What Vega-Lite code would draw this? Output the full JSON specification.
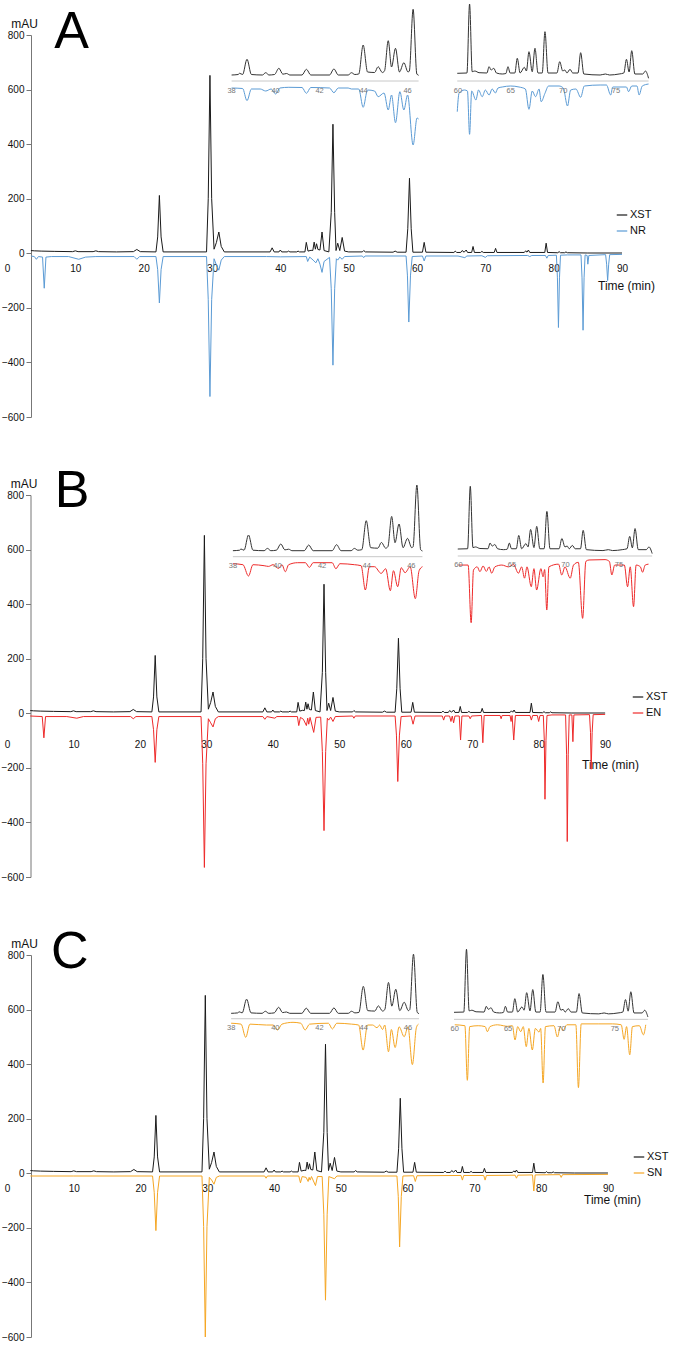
{
"$schema":"https://vega.github.io/schema/vega-lite/v6.json",
"padding":{"left":0,"top":2,"right":0,"bottom":0},
"bounds":"flush",
"spacing":78,
"resolve":{"scale":{"color":"independent"},"legend":{"color":"independent"}},
"config":{"view":{"stroke":null},"font":"Liberation Sans","legend":{"title":null,"symbolType":"stroke","symbolSize":110,"symbolStrokeWidth":1.2,"labelFontSize":11,"labelColor":"#111","rowPadding":5,"labelOffset":2}},
"datasets":{
"xst_main":[{"t":3.5,"v":10},{"t":4,"v":9},{"t":5,"v":8},{"t":7,"v":7},{"t":9.6,"v":6},{"t":10,"v":9},{"t":10.4,"v":6},{"t":12.6,"v":6},{"t":13,"v":9},{"t":13.4,"v":6},{"t":16,"v":5},{"t":18.5,"v":6},{"t":19,"v":14},{"t":19.5,"v":6},{"t":21.8,"v":5},{"t":22.05,"v":60},{"t":22.3,"v":212},{"t":22.55,"v":60},{"t":22.85,"v":5},{"t":29.2,"v":5},{"t":29.45,"v":200},{"t":29.7,"v":652},{"t":29.95,"v":200},{"t":30.3,"v":15},{"t":30.65,"v":40},{"t":31,"v":78},{"t":31.35,"v":25},{"t":31.8,"v":5},{"t":38.5,"v":5},{"t":38.8,"v":20},{"t":39.1,"v":5},{"t":39.8,"v":5},{"t":40,"v":12},{"t":40.2,"v":5},{"t":41,"v":5},{"t":41.2,"v":8},{"t":41.4,"v":5},{"t":42.4,"v":5},{"t":42.6,"v":8},{"t":42.8,"v":5},{"t":43.6,"v":5},{"t":43.8,"v":40},{"t":44.05,"v":8},{"t":44.5,"v":11},{"t":44.75,"v":10},{"t":44.95,"v":41},{"t":45.13,"v":15},{"t":45.3,"v":35},{"t":45.5,"v":14},{"t":45.8,"v":12},{"t":46.1,"v":78},{"t":46.4,"v":10},{"t":47.1,"v":5},{"t":47.45,"v":150},{"t":47.7,"v":473},{"t":47.95,"v":150},{"t":48.15,"v":10},{"t":48.4,"v":37},{"t":48.7,"v":10},{"t":49.05,"v":58},{"t":49.4,"v":8},{"t":50,"v":5},{"t":52,"v":5},{"t":52.2,"v":10},{"t":52.45,"v":5},{"t":56.5,"v":4},{"t":56.8,"v":8},{"t":57.1,"v":4},{"t":58.4,"v":4},{"t":58.65,"v":90},{"t":58.9,"v":275},{"t":59.15,"v":90},{"t":59.4,"v":4},{"t":60.8,"v":4},{"t":61.05,"v":40},{"t":61.3,"v":4},{"t":65.4,"v":3},{"t":65.6,"v":8},{"t":65.8,"v":3},{"t":66.4,"v":3},{"t":66.6,"v":10},{"t":66.9,"v":4},{"t":67.2,"v":12},{"t":67.4,"v":3},{"t":68,"v":3},{"t":68.2,"v":25},{"t":68.4,"v":3},{"t":69.3,"v":3},{"t":69.5,"v":7},{"t":69.7,"v":3},{"t":71.3,"v":3},{"t":71.5,"v":18},{"t":71.7,"v":3},{"t":75.7,"v":3},{"t":75.9,"v":9},{"t":76.1,"v":4},{"t":76.3,"v":12},{"t":76.5,"v":3},{"t":78.7,"v":3},{"t":78.9,"v":37},{"t":79.1,"v":3},{"t":80.6,"v":2},{"t":80.8,"v":6},{"t":81,"v":2},{"t":81.6,"v":2},{"t":81.8,"v":5},{"t":82,"v":2},{"t":85,"v":1},{"t":90,"v":1}],
"nr_main":[{"t":3.5,"v":-10},{"t":4,"v":-12},{"t":4.3,"v":-22},{"t":4.6,"v":-12},{"t":5.2,"v":-14},{"t":5.45,"v":-128},{"t":5.7,"v":-14},{"t":6.5,"v":-12},{"t":9,"v":-12},{"t":10.5,"v":-22},{"t":11.5,"v":-14},{"t":13,"v":-12},{"t":18.6,"v":-12},{"t":19,"v":-22},{"t":19.4,"v":-12},{"t":21.8,"v":-12},{"t":22.05,"v":-60},{"t":22.3,"v":-182},{"t":22.55,"v":-60},{"t":22.85,"v":-12},{"t":29.2,"v":-12},{"t":29.45,"v":-170},{"t":29.7,"v":-525},{"t":29.95,"v":-170},{"t":30.3,"v":-20},{"t":30.6,"v":-40},{"t":31,"v":-62},{"t":31.35,"v":-25},{"t":31.8,"v":-12},{"t":38,"v":-12},{"t":40,"v":-13},{"t":43.8,"v":-12},{"t":44,"v":-30},{"t":44.3,"v":-14},{"t":44.8,"v":-25},{"t":45.2,"v":-35},{"t":45.5,"v":-20},{"t":45.8,"v":-40},{"t":46.1,"v":-70},{"t":46.4,"v":-30},{"t":47.2,"v":-15},{"t":47.45,"v":-130},{"t":47.7,"v":-410},{"t":47.95,"v":-130},{"t":48.2,"v":-20},{"t":48.4,"v":-25},{"t":48.7,"v":-14},{"t":49.05,"v":-22},{"t":49.4,"v":-12},{"t":52,"v":-10},{"t":52.2,"v":-16},{"t":52.4,"v":-10},{"t":58.4,"v":-10},{"t":58.6,"v":-80},{"t":58.8,"v":-252},{"t":59.05,"v":-80},{"t":59.3,"v":-12},{"t":60.8,"v":-10},{"t":61.05,"v":-28},{"t":61.3,"v":-10},{"t":66,"v":-10},{"t":67,"v":-16},{"t":67.3,"v":-10},{"t":69.5,"v":-9},{"t":70,"v":-15},{"t":70.3,"v":-9},{"t":76.2,"v":-8},{"t":76.5,"v":-12},{"t":76.8,"v":-8},{"t":78.8,"v":-8},{"t":79,"v":-18},{"t":79.2,"v":-8},{"t":80.4,"v":-7},{"t":80.55,"v":-90},{"t":80.7,"v":-272},{"t":80.85,"v":-90},{"t":81,"v":-7},{"t":82,"v":-6},{"t":84,"v":-6},{"t":84.15,"v":-90},{"t":84.3,"v":-282},{"t":84.45,"v":-90},{"t":84.6,"v":-6},{"t":84.9,"v":-8},{"t":85,"v":-40},{"t":85.15,"v":-8},{"t":87.6,"v":-5},{"t":87.75,"v":-40},{"t":87.9,"v":-100},{"t":88.05,"v":-40},{"t":88.2,"v":-5},{"t":90,"v":-4}],
"en_main":[{"t":3.5,"v":-10},{"t":5.3,"v":-12},{"t":5.55,"v":-90},{"t":5.8,"v":-12},{"t":9,"v":-12},{"t":10.5,"v":-18},{"t":11.5,"v":-12},{"t":18.6,"v":-12},{"t":19,"v":-20},{"t":19.4,"v":-12},{"t":21.8,"v":-12},{"t":22.05,"v":-60},{"t":22.3,"v":-180},{"t":22.55,"v":-60},{"t":22.85,"v":-12},{"t":29.2,"v":-12},{"t":29.45,"v":-185},{"t":29.7,"v":-565},{"t":29.95,"v":-185},{"t":30.3,"v":-20},{"t":30.65,"v":-35},{"t":31,"v":-50},{"t":31.35,"v":-20},{"t":31.8,"v":-12},{"t":38.5,"v":-12},{"t":38.8,"v":-22},{"t":39.1,"v":-12},{"t":40.3,"v":-18},{"t":40.6,"v":-12},{"t":43.7,"v":-12},{"t":43.9,"v":-45},{"t":44.15,"v":-15},{"t":44.6,"v":-22},{"t":45.05,"v":-45},{"t":45.25,"v":-18},{"t":45.4,"v":-40},{"t":45.6,"v":-15},{"t":46.15,"v":-70},{"t":46.5,"v":-15},{"t":47.2,"v":-14},{"t":47.45,"v":-140},{"t":47.7,"v":-430},{"t":47.95,"v":-140},{"t":48.2,"v":-18},{"t":48.4,"v":-25},{"t":48.7,"v":-14},{"t":49.05,"v":-30},{"t":49.4,"v":-12},{"t":52,"v":-10},{"t":52.2,"v":-18},{"t":52.4,"v":-10},{"t":58.4,"v":-10},{"t":58.6,"v":-80},{"t":58.8,"v":-250},{"t":59.05,"v":-80},{"t":59.3,"v":-12},{"t":60.8,"v":-10},{"t":61.1,"v":-40},{"t":61.4,"v":-10},{"t":65.5,"v":-10},{"t":65.7,"v":-25},{"t":65.9,"v":-10},{"t":66.6,"v":-10},{"t":66.8,"v":-30},{"t":67,"v":-10},{"t":67.2,"v":-35},{"t":67.4,"v":-10},{"t":68.05,"v":-10},{"t":68.25,"v":-98},{"t":68.45,"v":-10},{"t":69.5,"v":-10},{"t":69.7,"v":-20},{"t":69.9,"v":-10},{"t":71.4,"v":-8},{"t":71.6,"v":-108},{"t":71.8,"v":-8},{"t":74.2,"v":-8},{"t":74.35,"v":-20},{"t":74.5,"v":-8},{"t":75.7,"v":-8},{"t":75.85,"v":-30},{"t":76,"v":-8},{"t":76.25,"v":-98},{"t":76.5,"v":-8},{"t":78.7,"v":-8},{"t":78.9,"v":-25},{"t":79.1,"v":-8},{"t":79.8,"v":-8},{"t":80,"v":-30},{"t":80.2,"v":-8},{"t":80.7,"v":-8},{"t":80.85,"v":-100},{"t":80.95,"v":-315},{"t":81.1,"v":-100},{"t":81.25,"v":-8},{"t":82,"v":-6},{"t":84.05,"v":-6},{"t":84.2,"v":-150},{"t":84.3,"v":-470},{"t":84.45,"v":-150},{"t":84.6,"v":-6},{"t":85,"v":-6},{"t":85.15,"v":-104},{"t":85.3,"v":-6},{"t":87.65,"v":-5},{"t":87.8,"v":-70},{"t":87.9,"v":-205},{"t":88.05,"v":-70},{"t":88.2,"v":-5},{"t":90,"v":-4}],
"sn_main":[{"t":3.5,"v":-10},{"t":10,"v":-10},{"t":21.8,"v":-10},{"t":22.05,"v":-70},{"t":22.3,"v":-210},{"t":22.55,"v":-70},{"t":22.85,"v":-10},{"t":29.2,"v":-10},{"t":29.45,"v":-195},{"t":29.7,"v":-600},{"t":29.95,"v":-195},{"t":30.3,"v":-15},{"t":30.65,"v":-25},{"t":31,"v":-40},{"t":31.35,"v":-15},{"t":31.8,"v":-10},{"t":38.6,"v":-10},{"t":38.8,"v":-18},{"t":39.0,"v":-10},{"t":43.7,"v":-10},{"t":43.95,"v":-35},{"t":44.2,"v":-12},{"t":44.8,"v":-15},{"t":45.1,"v":-30},{"t":45.25,"v":-15},{"t":45.4,"v":-25},{"t":45.6,"v":-12},{"t":46.2,"v":-45},{"t":46.5,"v":-12},{"t":47.2,"v":-12},{"t":47.45,"v":-150},{"t":47.7,"v":-465},{"t":47.95,"v":-150},{"t":48.2,"v":-12},{"t":49.05,"v":-20},{"t":49.4,"v":-10},{"t":58.4,"v":-10},{"t":58.6,"v":-85},{"t":58.8,"v":-270},{"t":59.05,"v":-85},{"t":59.3,"v":-10},{"t":60.9,"v":-9},{"t":61.15,"v":-30},{"t":61.4,"v":-9},{"t":68.0,"v":-8},{"t":68.2,"v":-25},{"t":68.4,"v":-8},{"t":71.4,"v":-8},{"t":71.6,"v":-25},{"t":71.8,"v":-8},{"t":76.1,"v":-7},{"t":76.3,"v":-18},{"t":76.5,"v":-7},{"t":78.7,"v":-6},{"t":78.9,"v":-65},{"t":79.1,"v":-6},{"t":82.8,"v":-5},{"t":83,"v":-15},{"t":83.2,"v":-5},{"t":90,"v":-4}],
"xst_in1":[{"t":38,"v":6},{"t":38.3,"v":6.5},{"t":38.36,"v":7.7},{"t":38.5,"v":6.5},{"t":38.7,"v":21.7},{"t":38.9,"v":6.5},{"t":39.4,"v":6},{"t":39.55,"v":8.3},{"t":39.7,"v":6},{"t":39.95,"v":6.5},{"t":40.15,"v":12.7},{"t":40.33,"v":6.8},{"t":40.5,"v":7.5},{"t":40.65,"v":6},{"t":41.2,"v":6},{"t":41.4,"v":11.7},{"t":41.6,"v":6},{"t":42.45,"v":6},{"t":42.65,"v":12},{"t":42.85,"v":6},{"t":43.3,"v":6},{"t":43.45,"v":8.3},{"t":43.6,"v":6.5},{"t":43.78,"v":7},{"t":43.98,"v":36},{"t":44.18,"v":9},{"t":44.5,"v":8.5},{"t":44.66,"v":14.3},{"t":44.85,"v":8.5},{"t":44.95,"v":10},{"t":45.12,"v":40.3},{"t":45.27,"v":14},{"t":45.45,"v":32.7},{"t":45.63,"v":9},{"t":45.83,"v":18.3},{"t":46.02,"v":9},{"t":46.08,"v":10},{"t":46.25,"v":71.7},{"t":46.42,"v":7},{"t":46.5,"v":5.7}],
"xst_in2":[{"t":59.93,"v":7.7},{"t":60.85,"v":8},{"t":61.1,"v":77},{"t":61.35,"v":9.3},{"t":61.6,"v":10},{"t":62,"v":8.3},{"t":62.75,"v":8},{"t":62.95,"v":14.3},{"t":63.15,"v":11},{"t":63.4,"v":12.7},{"t":63.65,"v":8},{"t":64.2,"v":7},{"t":64.55,"v":7.5},{"t":64.75,"v":14.3},{"t":64.95,"v":8},{"t":65.4,"v":8},{"t":65.63,"v":22.7},{"t":65.9,"v":8},{"t":66.3,"v":13.7},{"t":66.5,"v":10},{"t":66.74,"v":29.3},{"t":67.05,"v":9.3},{"t":67.31,"v":32.7},{"t":67.6,"v":8},{"t":68,"v":8},{"t":68.26,"v":49.3},{"t":68.55,"v":8},{"t":69.4,"v":8},{"t":69.66,"v":19.3},{"t":69.95,"v":10},{"t":70.15,"v":11},{"t":70.35,"v":8},{"t":70.64,"v":11.7},{"t":70.9,"v":8},{"t":71.4,"v":8},{"t":71.65,"v":28.3},{"t":71.95,"v":7},{"t":73.5,"v":6},{"t":74,"v":7},{"t":74.4,"v":6},{"t":75.3,"v":7},{"t":75.75,"v":8},{"t":76,"v":21.7},{"t":76.25,"v":9},{"t":76.5,"v":30.3},{"t":76.8,"v":7},{"t":77.55,"v":7},{"t":77.8,"v":10},{"t":78.1,"v":2.7}],
"nr_in1":[{"t":38,"v":-7},{"t":38.5,"v":-7.5},{"t":38.7,"v":-19.7},{"t":38.9,"v":-8},{"t":39.3,"v":-8},{"t":39.55,"v":-10},{"t":39.8,"v":-8},{"t":40,"v":-13},{"t":40.2,"v":-7},{"t":40.6,"v":-6.3},{"t":41.2,"v":-6.5},{"t":41.4,"v":-12.3},{"t":41.6,"v":-6.5},{"t":42.45,"v":-7},{"t":42.65,"v":-11.7},{"t":42.85,"v":-7},{"t":43.3,"v":-7},{"t":43.45,"v":-8},{"t":43.78,"v":-8},{"t":43.98,"v":-26.3},{"t":44.18,"v":-9},{"t":44.5,"v":-10},{"t":44.66,"v":-15.7},{"t":44.93,"v":-12},{"t":45.12,"v":-29},{"t":45.27,"v":-14},{"t":45.45,"v":-41.7},{"t":45.65,"v":-10.7},{"t":45.83,"v":-29},{"t":46,"v":-14},{"t":46.25,"v":-64},{"t":46.43,"v":-37},{"t":46.5,"v":-38}],
"nr_in2":[{"t":59.93,"v":-30.7},{"t":60.1,"v":-12.3},{"t":60.6,"v":-9},{"t":60.9,"v":-10},{"t":61.1,"v":-53.3},{"t":61.3,"v":-10},{"t":61.7,"v":-19},{"t":61.95,"v":-9},{"t":62.3,"v":-15.7},{"t":62.6,"v":-9},{"t":62.95,"v":-14},{"t":63.25,"v":-8},{"t":63.55,"v":-12},{"t":63.8,"v":-7},{"t":64.2,"v":-6},{"t":65,"v":-5},{"t":65.8,"v":-6},{"t":66.4,"v":-8},{"t":66.74,"v":-28.3},{"t":67.05,"v":-10},{"t":67.37,"v":-15.7},{"t":67.7,"v":-8},{"t":67.9,"v":-20.7},{"t":68.26,"v":-12.3},{"t":68.6,"v":-5},{"t":69.6,"v":-5},{"t":70,"v":-7},{"t":70.4,"v":-25},{"t":70.7,"v":-9},{"t":71.2,"v":-8},{"t":71.65,"v":-16.3},{"t":72,"v":-5},{"t":73.5,"v":-4},{"t":74.1,"v":-4},{"t":74.5,"v":-14},{"t":74.7,"v":-6},{"t":76,"v":-6},{"t":76.2,"v":-10.7},{"t":76.5,"v":-5},{"t":77,"v":-5},{"t":77.2,"v":-14},{"t":77.5,"v":-5},{"t":78.1,"v":-3}],
"en_in1":[{"t":38,"v":-7},{"t":38.45,"v":-8},{"t":38.7,"v":-19.3},{"t":38.9,"v":-8},{"t":39.4,"v":-9},{"t":39.6,"v":-9.7},{"t":39.8,"v":-8},{"t":40.05,"v":-11.7},{"t":40.2,"v":-8},{"t":40.35,"v":-15},{"t":40.5,"v":-8},{"t":40.9,"v":-6},{"t":41.25,"v":-6},{"t":41.43,"v":-10.7},{"t":41.6,"v":-6},{"t":42.45,"v":-6},{"t":42.62,"v":-12},{"t":42.8,"v":-7},{"t":43.45,"v":-8},{"t":43.75,"v":-9},{"t":43.94,"v":-33.3},{"t":44.12,"v":-10},{"t":44.35,"v":-10},{"t":44.65,"v":-16.7},{"t":44.85,"v":-12},{"t":45.06,"v":-34},{"t":45.2,"v":-14},{"t":45.39,"v":-30},{"t":45.55,"v":-11},{"t":45.72,"v":-16},{"t":45.95,"v":-10},{"t":46.18,"v":-42},{"t":46.35,"v":-14},{"t":46.5,"v":-10}],
"en_in2":[{"t":60,"v":-10},{"t":60.9,"v":-10},{"t":61.18,"v":-73.7},{"t":61.4,"v":-15.5},{"t":61.75,"v":-12},{"t":62,"v":-17.3},{"t":62.3,"v":-11},{"t":62.6,"v":-17},{"t":62.85,"v":-12},{"t":63.1,"v":-19},{"t":63.4,"v":-12},{"t":64.05,"v":-10},{"t":64.67,"v":-12},{"t":65.14,"v":-9.5},{"t":65.6,"v":-19},{"t":65.9,"v":-12},{"t":66.17,"v":-24.5},{"t":66.4,"v":-12},{"t":66.8,"v":-33.9},{"t":67.05,"v":-14},{"t":67.3,"v":-37.6},{"t":67.7,"v":-14},{"t":67.9,"v":-23},{"t":68.05,"v":-15},{"t":68.25,"v":-59.7},{"t":68.45,"v":-12},{"t":69.35,"v":-9},{"t":69.65,"v":-21},{"t":69.95,"v":-12},{"t":70.44,"v":-24.5},{"t":70.75,"v":-10},{"t":71.2,"v":-7},{"t":71.6,"v":-68.9},{"t":71.9,"v":-6},{"t":72.2,"v":-4.4},{"t":73.7,"v":-4},{"t":74.1,"v":-6},{"t":74.33,"v":-21},{"t":74.6,"v":-10},{"t":75.5,"v":-10},{"t":75.8,"v":-34},{"t":76.05,"v":-12},{"t":76.36,"v":-56},{"t":76.6,"v":-10},{"t":77,"v":-12},{"t":77.2,"v":-18},{"t":77.45,"v":-10},{"t":77.76,"v":-9}],
"sn_in1":[{"t":38,"v":-5},{"t":38.45,"v":-6},{"t":38.66,"v":-20.7},{"t":38.85,"v":-6},{"t":39.6,"v":-7},{"t":39.9,"v":-7},{"t":40.1,"v":-12.5},{"t":40.3,"v":-6},{"t":40.8,"v":-4},{"t":41.15,"v":-5},{"t":41.35,"v":-12.5},{"t":41.55,"v":-6},{"t":42.4,"v":-5},{"t":42.58,"v":-11.4},{"t":42.78,"v":-5},{"t":43.45,"v":-6},{"t":43.77,"v":-7},{"t":43.97,"v":-34.8},{"t":44.17,"v":-7},{"t":44.4,"v":-7},{"t":44.6,"v":-10},{"t":44.72,"v":-7},{"t":44.85,"v":-12},{"t":44.95,"v":-7},{"t":45.12,"v":-36.7},{"t":45.25,"v":-12},{"t":45.42,"v":-32},{"t":45.6,"v":-9},{"t":45.83,"v":-20},{"t":46,"v":-9},{"t":46.2,"v":-51},{"t":46.38,"v":-10},{"t":46.47,"v":-6}],
"sn_in2":[{"t":60,"v":-6},{"t":60.95,"v":-7},{"t":61.18,"v":-67},{"t":61.4,"v":-8},{"t":62.2,"v":-7},{"t":62.85,"v":-8},{"t":63.06,"v":-13.6},{"t":63.3,"v":-8},{"t":64,"v":-6},{"t":64.55,"v":-7},{"t":64.93,"v":-7.7},{"t":65.4,"v":-7},{"t":65.65,"v":-22.7},{"t":65.9,"v":-8},{"t":66.18,"v":-13.6},{"t":66.42,"v":-8},{"t":66.7,"v":-30},{"t":66.95,"v":-10},{"t":67.27,"v":-33.7},{"t":67.55,"v":-10},{"t":67.9,"v":-14},{"t":68.05,"v":-10},{"t":68.28,"v":-70},{"t":68.5,"v":-8},{"t":69.3,"v":-7},{"t":69.62,"v":-19.4},{"t":69.9,"v":-8},{"t":70.15,"v":-12.5},{"t":70.5,"v":-6},{"t":71.35,"v":-6},{"t":71.59,"v":-75},{"t":71.85,"v":-5},{"t":73.5,"v":-5},{"t":74.8,"v":-5},{"t":75.6,"v":-6},{"t":75.87,"v":-22},{"t":76.1,"v":-8},{"t":76.4,"v":-39},{"t":76.65,"v":-8},{"t":77.3,"v":-7},{"t":77.68,"v":-17},{"t":77.9,"v":-6}],
"ticks_in1":[{"t":38},{"t":40},{"t":42},{"t":44},{"t":46}],
"ticks_in2":[{"t":60},{"t":65},{"t":70},{"t":75}]
},
"vconcat":[
{"width":656,"height":382,"resolve":{"scale":{"x":"independent","y":"independent"},"axis":{"x":"independent","y":"independent"}},
"layer":[
{"layer":[
{"data":{"name":"xst_main"},"mark":{"type":"line","strokeWidth":1},"encoding":{"x":{"field":"t","type":"quantitative","scale":{"domain":[0,96],"nice":false},"axis":{"values":[0,10,20,30,40,50,60,70,80,90],"domain":false,"ticks":false,"tickSize":0,"grid":false,"offset":-163.7,"labelPadding":15,"labelBaseline":"middle","labelFlush":false,"labelOverlap":false,"labelFontSize":10,"labelColor":"#111","title":"Time (min)","titleX":619,"titleY":32,"titleAlign":"center","titleBaseline":"middle","titleFontSize":12,"titleFontWeight":"normal","titleColor":"#111"}},"y":{"field":"v","type":"quantitative","scale":{"domain":[-600,800],"nice":false},"axis":{"values":[-600,-400,-200,0,200,400,600,800],"grid":false,"offset":-24,"domainColor":"#777","tickColor":"#777","tickSize":5,"labelPadding":2,"labelFontSize":10,"labelColor":"#111","title":"mAU","titleAngle":0,"titleAlign":"center","titleBaseline":"middle","titleX":-7,"titleY":-12,"titleFontSize":12,"titleFontWeight":"normal","titleColor":"#111"}},"color":{"datum":"XST","type":"nominal","scale":{"domain":["XST","NR"],"range":["#1a1a1a","#5b9bd5"]},"legend":{"orient":"none","legendX":609,"legendY":174}}}},
{"data":{"name":"nr_main"},"mark":{"type":"line","strokeWidth":1},"encoding":{"x":{"field":"t","type":"quantitative"},"y":{"field":"v","type":"quantitative"},"color":{"datum":"NR","type":"nominal"}}},
{"data":{"values":[{"p":"A"}]},"mark":{"type":"text","fontSize":52,"align":"left","baseline":"alphabetic","color":"#000"},"encoding":{"x":{"datum":6.9},"y":{"datum":752},"text":{"field":"p"}}}
]},
{"layer":[
{"data":{"name":"xst_in1"},"mark":{"type":"rule","color":"#c8c8c8","strokeWidth":1},"encoding":{"x":{"aggregate":"min","field":"t","type":"quantitative","scale":{"domain":[27.79,57.61],"nice":false},"axis":null},"x2":{"aggregate":"max","field":"t"},"y":{"datum":0,"type":"quantitative","scale":{"domain":[-336,46],"nice":false,"zero":false},"axis":null}}},
{"data":{"name":"xst_in1"},"mark":{"type":"line","color":"#333333","strokeWidth":1,"interpolate":"monotone"},"encoding":{"x":{"field":"t","type":"quantitative"},"y":{"field":"v","type":"quantitative"}}},
{"data":{"name":"nr_in1"},"mark":{"type":"line","color":"#5b9bd5","strokeWidth":1,"interpolate":"monotone"},"encoding":{"x":{"field":"t","type":"quantitative"},"y":{"field":"v","type":"quantitative"}}},
{"data":{"name":"ticks_in1"},"mark":{"type":"text","fontSize":7.5,"color":"#777","dy":9.5},"encoding":{"x":{"field":"t","type":"quantitative"},"y":{"datum":0,"type":"quantitative"},"text":{"field":"t","type":"quantitative"}}}
]},
{"layer":[
{"data":{"name":"xst_in2"},"mark":{"type":"rule","color":"#c8c8c8","strokeWidth":1},"encoding":{"x":{"aggregate":"min","field":"t","type":"quantitative","scale":{"domain":[17.17,79.47],"nice":false},"axis":null},"x2":{"aggregate":"max","field":"t"},"y":{"datum":0,"type":"quantitative","scale":{"domain":[-336,46],"nice":false,"zero":false},"axis":null}}},
{"data":{"name":"xst_in2"},"mark":{"type":"line","color":"#333333","strokeWidth":1,"interpolate":"monotone"},"encoding":{"x":{"field":"t","type":"quantitative"},"y":{"field":"v","type":"quantitative"}}},
{"data":{"name":"nr_in2"},"mark":{"type":"line","color":"#5b9bd5","strokeWidth":1,"interpolate":"monotone"},"encoding":{"x":{"field":"t","type":"quantitative"},"y":{"field":"v","type":"quantitative"}}},
{"data":{"name":"ticks_in2"},"mark":{"type":"text","fontSize":7.5,"color":"#777","dy":9.5},"encoding":{"x":{"field":"t","type":"quantitative"},"y":{"datum":0,"type":"quantitative"},"text":{"field":"t","type":"quantitative"}}}
]}
]},
{"width":638,"height":382,"resolve":{"scale":{"x":"independent","y":"independent"},"axis":{"x":"independent","y":"independent"}},
"layer":[
{"layer":[
{"data":{"name":"xst_main"},"mark":{"type":"line","strokeWidth":1},"encoding":{"x":{"field":"t","type":"quantitative","scale":{"domain":[0,96],"nice":false},"axis":{"values":[0,10,20,30,40,50,60,70,80,90],"domain":false,"ticks":false,"tickSize":0,"grid":false,"offset":-163.7,"labelPadding":31,"labelBaseline":"middle","labelFlush":false,"labelOverlap":false,"labelFontSize":10,"labelColor":"#111","title":"Time (min)","titleX":603,"titleY":51,"titleAlign":"center","titleBaseline":"middle","titleFontSize":12,"titleFontWeight":"normal","titleColor":"#111"}},"y":{"field":"v","type":"quantitative","scale":{"domain":[-600,800],"nice":false},"axis":{"values":[-600,-400,-200,0,200,400,600,800],"grid":false,"offset":-23.5,"domainColor":"#777","tickColor":"#777","tickSize":5,"labelPadding":2,"labelFontSize":10,"labelColor":"#111","title":"mAU","titleAngle":0,"titleAlign":"center","titleBaseline":"middle","titleX":-7,"titleY":-12,"titleFontSize":12,"titleFontWeight":"normal","titleColor":"#111"}},"color":{"datum":"XST","type":"nominal","scale":{"domain":["XST","EN"],"range":["#1a1a1a","#ee2a2a"]},"legend":{"orient":"none","legendX":625,"legendY":196}}}},
{"data":{"name":"en_main"},"mark":{"type":"line","strokeWidth":1},"encoding":{"x":{"field":"t","type":"quantitative"},"y":{"field":"v","type":"quantitative"},"color":{"datum":"EN","type":"nominal"}}},
{"data":{"values":[{"p":"B"}]},"mark":{"type":"text","fontSize":52,"align":"left","baseline":"alphabetic","color":"#000"},"encoding":{"x":{"datum":7.2},"y":{"datum":756},"text":{"field":"p"}}}
]},
{"layer":[
{"data":{"name":"xst_in1"},"mark":{"type":"rule","color":"#c8c8c8","strokeWidth":1},"encoding":{"x":{"aggregate":"min","field":"t","type":"quantitative","scale":{"domain":[27.87,56.48],"nice":false},"axis":null},"x2":{"aggregate":"max","field":"t"},"y":{"datum":0,"type":"quantitative","scale":{"domain":[-320.3,61.7],"nice":false,"zero":false},"axis":null}}},
{"data":{"name":"xst_in1"},"mark":{"type":"line","color":"#333333","strokeWidth":1,"interpolate":"monotone"},"encoding":{"x":{"field":"t","type":"quantitative"},"y":{"field":"v","type":"quantitative"}}},
{"data":{"name":"en_in1"},"mark":{"type":"line","color":"#ee2a2a","strokeWidth":1,"interpolate":"monotone"},"encoding":{"x":{"field":"t","type":"quantitative"},"y":{"field":"v","type":"quantitative"}}},
{"data":{"name":"ticks_in1"},"mark":{"type":"text","fontSize":7.5,"color":"#777","dy":9.5},"encoding":{"x":{"field":"t","type":"quantitative"},"y":{"datum":0,"type":"quantitative"},"text":{"field":"t","type":"quantitative"}}}
]},
{"layer":[
{"data":{"name":"xst_in2"},"mark":{"type":"rule","color":"#c8c8c8","strokeWidth":1},"encoding":{"x":{"aggregate":"min","field":"t","type":"quantitative","scale":{"domain":[17.8,77.43],"nice":false},"axis":null},"x2":{"aggregate":"max","field":"t"},"y":{"datum":0,"type":"quantitative","scale":{"domain":[-354.7,67.4],"nice":false,"zero":false},"axis":null}}},
{"data":{"name":"xst_in2"},"mark":{"type":"line","color":"#333333","strokeWidth":1,"interpolate":"monotone"},"encoding":{"x":{"field":"t","type":"quantitative"},"y":{"field":"v","type":"quantitative"}}},
{"data":{"name":"en_in2"},"mark":{"type":"line","color":"#ee2a2a","strokeWidth":1,"interpolate":"monotone"},"encoding":{"x":{"field":"t","type":"quantitative"},"y":{"field":"v","type":"quantitative"}}},
{"data":{"name":"ticks_in2"},"mark":{"type":"text","fontSize":7.5,"color":"#777","dy":9.5},"encoding":{"x":{"field":"t","type":"quantitative"},"y":{"datum":0,"type":"quantitative"},"text":{"field":"t","type":"quantitative"}}}
]}
]},
{"width":641,"height":382,"resolve":{"scale":{"x":"independent","y":"independent"},"axis":{"x":"independent","y":"independent"}},
"layer":[
{"layer":[
{"data":{"name":"xst_main"},"mark":{"type":"line","strokeWidth":1},"encoding":{"x":{"field":"t","type":"quantitative","scale":{"domain":[0,96],"nice":false},"axis":{"values":[0,10,20,30,40,50,60,70,80,90],"domain":false,"ticks":false,"tickSize":0,"grid":false,"offset":-163.7,"labelPadding":15,"labelBaseline":"middle","labelFlush":false,"labelOverlap":false,"labelFontSize":10,"labelColor":"#111","title":"Time (min)","titleX":605,"titleY":26,"titleAlign":"center","titleBaseline":"middle","titleFontSize":12,"titleFontWeight":"normal","titleColor":"#111"}},"y":{"field":"v","type":"quantitative","scale":{"domain":[-600,800],"nice":false},"axis":{"values":[-600,-400,-200,0,200,400,600,800],"grid":false,"offset":-24,"domainColor":"#777","tickColor":"#777","tickSize":5,"labelPadding":2,"labelFontSize":10,"labelColor":"#111","title":"mAU","titleAngle":0,"titleAlign":"center","titleBaseline":"middle","titleX":-7,"titleY":-12,"titleFontSize":12,"titleFontWeight":"normal","titleColor":"#111"}},"color":{"datum":"XST","type":"nominal","scale":{"domain":["XST","SN"],"range":["#1a1a1a","#f5a623"]},"legend":{"orient":"none","legendX":626,"legendY":196}}}},
{"data":{"name":"sn_main"},"mark":{"type":"line","strokeWidth":1},"encoding":{"x":{"field":"t","type":"quantitative"},"y":{"field":"v","type":"quantitative"},"color":{"datum":"SN","type":"nominal"}}},
{"data":{"values":[{"p":"C"}]},"mark":{"type":"text","fontSize":52,"align":"left","baseline":"alphabetic","color":"#000"},"encoding":{"x":{"datum":6.6},"y":{"datum":752},"text":{"field":"p"}}}
]},
{"layer":[
{"data":{"name":"xst_in1"},"mark":{"type":"rule","color":"#c8c8c8","strokeWidth":1},"encoding":{"x":{"aggregate":"min","field":"t","type":"quantitative","scale":{"domain":[27.86,56.86],"nice":false},"axis":null},"x2":{"aggregate":"max","field":"t"},"y":{"datum":0,"type":"quantitative","scale":{"domain":[-353.6,70.8],"nice":false,"zero":false},"axis":null}}},
{"data":{"name":"xst_in1"},"mark":{"type":"line","color":"#333333","strokeWidth":1,"interpolate":"monotone"},"encoding":{"x":{"field":"t","type":"quantitative"},"y":{"field":"v","type":"quantitative"}}},
{"data":{"name":"sn_in1"},"mark":{"type":"line","color":"#f5a623","strokeWidth":1,"interpolate":"monotone"},"encoding":{"x":{"field":"t","type":"quantitative"},"y":{"field":"v","type":"quantitative"}}},
{"data":{"name":"ticks_in1"},"mark":{"type":"text","fontSize":7.5,"color":"#777","dy":9.5},"encoding":{"x":{"field":"t","type":"quantitative"},"y":{"datum":0,"type":"quantitative"},"text":{"field":"t","type":"quantitative"}}}
]},
{"layer":[
{"data":{"name":"xst_in2"},"mark":{"type":"rule","color":"#c8c8c8","strokeWidth":1},"encoding":{"x":{"aggregate":"min","field":"t","type":"quantitative","scale":{"domain":[18.04,78.11],"nice":false},"axis":null},"x2":{"aggregate":"max","field":"t"},"y":{"datum":0,"type":"quantitative","scale":{"domain":[-349.1,70.7],"nice":false,"zero":false},"axis":null}}},
{"data":{"name":"xst_in2"},"mark":{"type":"line","color":"#333333","strokeWidth":1,"interpolate":"monotone"},"encoding":{"x":{"field":"t","type":"quantitative"},"y":{"field":"v","type":"quantitative"}}},
{"data":{"name":"sn_in2"},"mark":{"type":"line","color":"#f5a623","strokeWidth":1,"interpolate":"monotone"},"encoding":{"x":{"field":"t","type":"quantitative"},"y":{"field":"v","type":"quantitative"}}},
{"data":{"name":"ticks_in2"},"mark":{"type":"text","fontSize":7.5,"color":"#777","dy":9.5},"encoding":{"x":{"field":"t","type":"quantitative"},"y":{"datum":0,"type":"quantitative"},"text":{"field":"t","type":"quantitative"}}}
]}
]}
]
}
